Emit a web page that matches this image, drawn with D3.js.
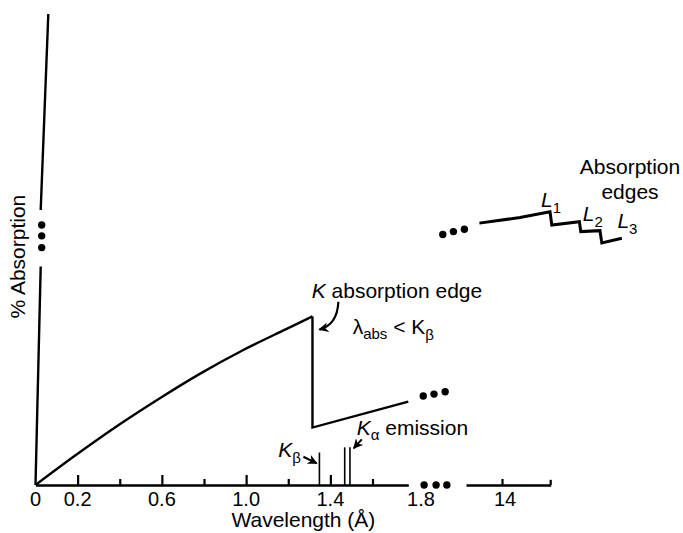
<!DOCTYPE html>
<html>
<head>
<meta charset="utf-8">
<script src="https://cdn.jsdelivr.net/npm/d3@7"></script>
<style>
  body { margin: 0; background: #fff; }
  text { font-family: "Liberation Sans", Arial, Helvetica, sans-serif; fill: #000; }
</style>
</head>
<body>
<div id="chart"></div>
<script>
// % absorption vs wavelength: schematic with broken axes

// short wavelength side, [wavelength (Å), % absorption]
const preEdge = [[0, 0], [0.19, 6.3], [0.4, 12.9], [0.6, 18.7], [0.78, 23.6], [0.98, 28.5], [1.19, 33.1], [1.315, 35.8]];
const edgeAndAfter = [[1.315, 35.8], [1.315, 12.2], [1.77, 17.7]];
const afterDots = [[1.841, 18.9], [1.892, 19.3], [1.945, 19.8]];

// emission lines
const kBeta = [[1.348, 6.9]];
const kAlpha = [[1.468, 8.0], [1.493, 8.0]];

// y axis drawn with a break
const yAxisLow = [[0, 0], [0.0247, 46.4]];
const yAxisHigh = [[0.0247, 58.4], [0.0608, 100]];
const yBreakDots = [[0.0294, 55.2], [0.0294, 52.9], [0.0294, 50.4]];

// long wavelength side (L edges), on the broken scale
const lCurve = [[12.87, 55.6], [14.9, 56.8], [16.4, 58.0], [16.49, 55.2], [17.87, 55.9], [17.94, 53.8], [18.9, 54.0], [18.99, 51.4], [19.99, 52.4]];
const lDots = [[11.04, 53.2], [11.57, 53.8], [12.12, 54.3]];

// axis ticks and labels
const majorTicks = [0.2, 0.6, 1.0, 1.4];
const minorTicks = [0.4, 0.8, 1.2, 1.6];
const tickLabels = ["0", "0.2", "0.6", "1.0", "1.4", "1.8"];
const tickLabelAt = [0, 0.2, 0.6, 1.0, 1.4, 1.83];
const xBreakDots = [1.845, 1.902, 1.953];
const farTicks = [14];
const farAxis = [12.2, 16.435];

const width = 683, height = 533;

const svg = d3.select("#chart")
    .append("svg")
    .attr("width", width)
    .attr("height", height);

const x = d3.scaleLinear().domain([0, 1.77]).range([35.5, 408.3]);
const xB = d3.scaleLinear().domain([12, 20]).range([462, 622]);
const y = d3.scaleLinear().domain([0, 100]).range([485, 14]);

const line = d3.line().x(d => x(d[0])).y(d => y(d[1]));
const lineB = d3.line().x(d => xB(d[0])).y(d => y(d[1]));

// arrow head
svg.append("defs").append("marker")
    .attr("id", "head")
    .attr("viewBox", "0 0 10 10")
    .attr("refX", 9).attr("refY", 5)
    .attr("markerWidth", 10).attr("markerHeight", 10)
    .attr("markerUnits", "userSpaceOnUse")
    .attr("orient", "auto")
    .append("path")
    .attr("d", "M0,0 L10,5 L0,10 L3,5 Z")
    .attr("fill", "#000");

// bottom axis, main part
const axisMajor = d3.axisBottom(x).tickValues(majorTicks).tickSize(-10).tickSizeOuter(0).tickFormat("");
const axisMinor = d3.axisBottom(x).tickValues(minorTicks).tickSize(-6).tickSizeOuter(0).tickFormat("");

const gx = svg.append("g").attr("transform", `translate(0,${y(0)})`);
gx.append("g").call(axisMajor);
gx.append("g").call(axisMinor).select(".domain").remove();

// bottom axis, far part
const xFar = xB.copy().domain(farAxis).range(farAxis.map(xB));
gx.append("g").call(d3.axisBottom(xFar).tickValues(farTicks).tickSize(-6).tickSizeOuter(0).tickFormat(""));
svg.append("path")
    .attr("d", lineB([[farAxis[1], 0], [farAxis[1], 1.1]]))
    .attr("fill", "none").attr("stroke", "#000").attr("stroke-width", 2.2);

gx.selectAll(".domain").attr("stroke", "#000").attr("stroke-width", 2.6);
gx.selectAll(".tick line").attr("stroke", "#000").attr("stroke-width", 2.2);

svg.selectAll(".tlabel")
    .data(tickLabels)
    .join("text")
    .attr("class", "tlabel")
    .attr("x", (d, i) => x(tickLabelAt[i]))
    .attr("y", y(0) + 21)
    .attr("text-anchor", "middle")
    .style("font-size", "20px")
    .text(d => d);

svg.selectAll(".flabel")
    .data(farTicks)
    .join("text")
    .attr("class", "flabel")
    .attr("x", d => xB(d) + 3)
    .attr("y", y(0) + 21)
    .attr("text-anchor", "middle")
    .style("font-size", "20px")
    .text(d => d);

svg.append("text")
    .attr("x", x(1.272))
    .attr("y", 527)
    .attr("text-anchor", "middle")
    .style("font-size", "21px")
    .text("Wavelength (Å)");

// y axis with break
[yAxisLow, yAxisHigh].forEach(seg => {
    svg.append("path").attr("d", line(seg))
        .attr("fill", "none").attr("stroke", "#000").attr("stroke-width", 2.4);
});

svg.append("text")
    .attr("transform", `translate(25,${y(48.5)}) rotate(-90)`)
    .attr("text-anchor", "middle")
    .style("font-size", "21px")
    .text("% Absorption");

// absorption curve
svg.append("path")
    .datum(preEdge)
    .attr("d", d3.line().x(d => x(d[0])).y(d => y(d[1])).curve(d3.curveMonotoneX))
    .attr("fill", "none").attr("stroke", "#000").attr("stroke-width", 2.4);

svg.append("path")
    .datum(edgeAndAfter)
    .attr("d", line)
    .attr("fill", "none").attr("stroke", "#000").attr("stroke-width", 2.4)
    .attr("stroke-linejoin", "miter");

svg.append("path")
    .datum(lCurve)
    .attr("d", lineB)
    .attr("fill", "none").attr("stroke", "#000").attr("stroke-width", 3)
    .attr("stroke-linejoin", "miter");

// emission lines
svg.selectAll(".emis")
    .data(kBeta.concat(kAlpha))
    .join("line")
    .attr("class", "emis")
    .attr("x1", d => x(d[0])).attr("x2", d => x(d[0]))
    .attr("y1", y(0)).attr("y2", d => y(d[1]))
    .attr("stroke", "#000").attr("stroke-width", 1.6);

// break dots
const dotR = 3.7;
svg.selectAll(".dotA")
    .data(afterDots.concat(yBreakDots).concat(xBreakDots.map(v => [v, 0])))
    .join("circle")
    .attr("class", "dotA")
    .attr("cx", d => x(d[0])).attr("cy", d => y(d[1])).attr("r", dotR);

svg.selectAll(".dotB")
    .data(lDots)
    .join("circle")
    .attr("class", "dotB")
    .attr("cx", d => xB(d[0])).attr("cy", d => y(d[1])).attr("r", dotR);

// annotations
const kEdgeText = svg.append("text")
    .attr("x", x(1.3115)).attr("y", y(39.7))
    .style("font-size", "21px");
kEdgeText.append("tspan").style("font-style", "italic").text("K");
kEdgeText.append("tspan").text(" absorption edge");

svg.append("path")
    .attr("d", `M${x(1.438)},${y(38.9)} Q${x(1.433)},${y(34.0)} ${x(1.348)},${y(33.0)}`)
    .attr("fill", "none").attr("stroke", "#000").attr("stroke-width", 2.2)
    .attr("marker-end", "url(#head)");

const lamText = svg.append("text")
    .attr("x", x(1.506)).attr("y", y(32.1))
    .style("font-size", "21px");
lamText.append("tspan").text("λ");
lamText.append("tspan").attr("dy", 5).style("font-size", "15px").text("abs");
lamText.append("tspan").attr("dy", -5).text(" < K");
lamText.append("tspan").attr("dy", 6).style("font-size", "15px").text("β");

const kaText = svg.append("text")
    .attr("x", x(1.525)).attr("y", y(10.6))
    .style("font-size", "21px");
kaText.append("tspan").style("font-style", "italic").text("K");
kaText.append("tspan").attr("dy", 5).style("font-size", "15px").text("α");
kaText.append("tspan").attr("dy", -5).text(" emission");

svg.append("path")
    .attr("d", line([[1.549, 9.7], [1.511, 7.8]]))
    .attr("fill", "none").attr("stroke", "#000").attr("stroke-width", 2)
    .attr("marker-end", "url(#head)");

const kbText = svg.append("text")
    .attr("x", x(1.153)).attr("y", y(6.0))
    .style("font-size", "21px");
kbText.append("tspan").style("font-style", "italic").text("K");
kbText.append("tspan").attr("dy", 6).style("font-size", "15px").text("β");

svg.append("path")
    .attr("d", line([[1.272, 6.0], [1.335, 4.6]]))
    .attr("fill", "none").attr("stroke", "#000").attr("stroke-width", 2)
    .attr("marker-end", "url(#head)");

// L edge labels
const lLabels = [["1", 15.95, 59.0], ["2", 18.04, 56.05], ["3", 19.77, 54.67]];
lLabels.forEach(d => {
    const t = svg.append("text")
        .attr("x", xB(d[1])).attr("y", y(d[2]))
        .style("font-size", "21px");
    t.append("tspan").style("font-style", "italic").text("L");
    t.append("tspan").attr("dy", 6).style("font-size", "15px").text(d[0]);
});

svg.append("text")
    .attr("x", xB(20.4)).attr("y", y(66.0))
    .attr("text-anchor", "middle")
    .style("font-size", "21px")
    .text("Absorption");
svg.append("text")
    .attr("x", xB(20.4)).attr("y", y(60.7))
    .attr("text-anchor", "middle")
    .style("font-size", "21px")
    .text("edges");
</script>
</body>
</html>
